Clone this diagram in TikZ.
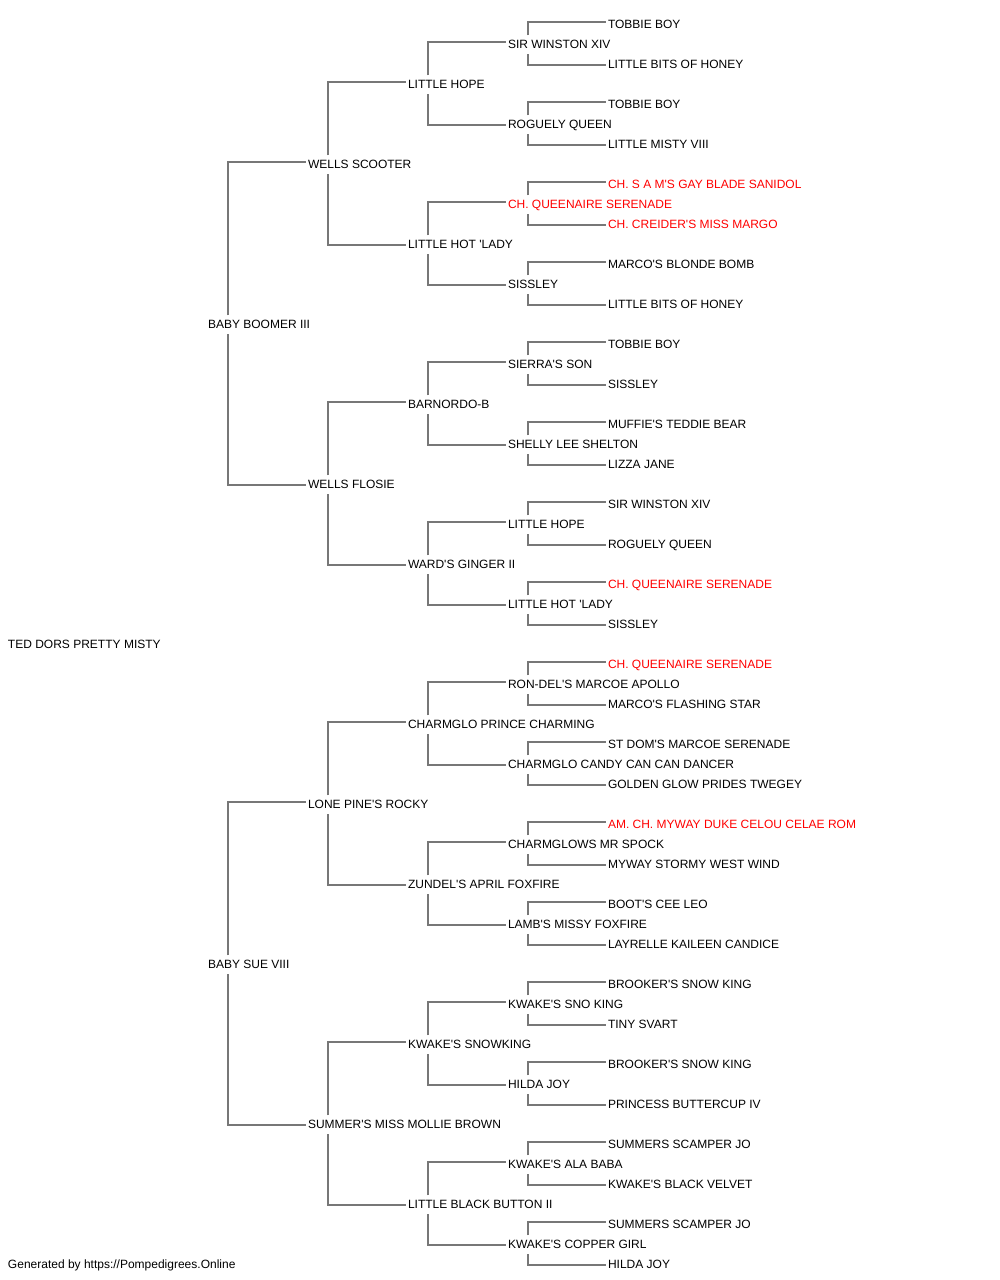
\documentclass[tikz,border=0pt]{standalone}
\usepackage{fontspec}
\setmainfont{Liberation Sans}[Ligatures=TeXOff]
\definecolor{linkgray}{HTML}{777777}
\definecolor{chred}{HTML}{FF0000}
\begin{document}
\begin{tikzpicture}[x=1pt,y=1pt,
  lbl/.style={anchor=base west,inner sep=0pt,outer sep=0pt,font=\fontsize{12}{14}\selectfont},
  link/.style={draw=linkgray,line width=1.9pt}]
\useasboundingbox[fill=white] (0,0) rectangle (1000,1280);
\foreach \r/\g/\t/\c in {
0/5/TOBBIE BOY/black,
1/4/SIR WINSTON XIV/black,
2/5/LITTLE BITS OF HONEY/black,
3/3/LITTLE HOPE/black,
4/5/TOBBIE BOY/black,
5/4/ROGUELY QUEEN/black,
6/5/LITTLE MISTY VIII/black,
7/2/WELLS SCOOTER/black,
8/5/CH. S A M'S GAY BLADE SANIDOL/chred,
9/4/CH. QUEENAIRE SERENADE/chred,
10/5/CH. CREIDER'S MISS MARGO/chred,
11/3/LITTLE HOT 'LADY/black,
12/5/MARCO'S BLONDE BOMB/black,
13/4/SISSLEY/black,
14/5/LITTLE BITS OF HONEY/black,
15/1/BABY BOOMER III/black,
16/5/TOBBIE BOY/black,
17/4/SIERRA'S SON/black,
18/5/SISSLEY/black,
19/3/BARNORDO-B/black,
20/5/MUFFIE'S TEDDIE BEAR/black,
21/4/SHELLY LEE SHELTON/black,
22/5/LIZZA JANE/black,
23/2/WELLS FLOSIE/black,
24/5/SIR WINSTON XIV/black,
25/4/LITTLE HOPE/black,
26/5/ROGUELY QUEEN/black,
27/3/WARD'S GINGER II/black,
28/5/CH. QUEENAIRE SERENADE/chred,
29/4/LITTLE HOT 'LADY/black,
30/5/SISSLEY/black,
31/0/TED DORS PRETTY MISTY/black,
32/5/CH. QUEENAIRE SERENADE/chred,
33/4/RON-DEL'S MARCOE APOLLO/black,
34/5/MARCO'S FLASHING STAR/black,
35/3/CHARMGLO PRINCE CHARMING/black,
36/5/ST DOM'S MARCOE SERENADE/black,
37/4/CHARMGLO CANDY CAN CAN DANCER/black,
38/5/GOLDEN GLOW PRIDES TWEGEY/black,
39/2/LONE PINE'S ROCKY/black,
40/5/AM. CH. MYWAY DUKE CELOU CELAE ROM/chred,
41/4/CHARMGLOWS MR SPOCK/black,
42/5/MYWAY STORMY WEST WIND/black,
43/3/ZUNDEL'S APRIL FOXFIRE/black,
44/5/BOOT'S CEE LEO/black,
45/4/LAMB'S MISSY FOXFIRE/black,
46/5/LAYRELLE KAILEEN CANDICE/black,
47/1/BABY SUE VIII/black,
48/5/BROOKER'S SNOW KING/black,
49/4/KWAKE'S SNO KING/black,
50/5/TINY SVART/black,
51/3/KWAKE'S SNOWKING/black,
52/5/BROOKER'S SNOW KING/black,
53/4/HILDA JOY/black,
54/5/PRINCESS BUTTERCUP IV/black,
55/2/SUMMER'S MISS MOLLIE BROWN/black,
56/5/SUMMERS SCAMPER JO/black,
57/4/KWAKE'S ALA BABA/black,
58/5/KWAKE'S BLACK VELVET/black,
59/3/LITTLE BLACK BUTTON II/black,
60/5/SUMMERS SCAMPER JO/black,
61/4/KWAKE'S COPPER GIRL/black,
62/5/HILDA JOY/black}{
  \pgfmathsetmacro{\xx}{\g==0 ? 8 : 108+100*\g}
  \pgfmathsetmacro{\yy}{1251.7-20*\r}
  \node[lbl,text=\c] (n\r) at (\xx,\yy) {\t};
}
\node[lbl] (credit) at (8,{1251.7-20*62}) {Generated by https://Pompedigrees.Online};
\foreach \p/\a/\b in {15/7/23,47/39/55,
  7/3/11,23/19/27,39/35/43,55/51/59,
  3/1/5,11/9/13,19/17/21,27/25/29,35/33/37,43/41/45,51/49/53,59/57/61,
  1/0/2,5/4/6,9/8/10,13/12/14,17/16/18,21/20/22,25/24/26,29/28/30,
  33/32/34,37/36/38,41/40/42,45/44/46,49/48/50,53/52/54,57/56/58,61/60/62}{
  \draw[link] ([xshift=20pt,yshift=13pt]n\p.base west) |- ([xshift=-2pt,yshift=6pt]n\a.base west);
  \draw[link] ([xshift=20pt,yshift=-6pt]n\p.base west) |- ([xshift=-2pt,yshift=3pt]n\b.base west);
}
\end{tikzpicture}
\end{document}
